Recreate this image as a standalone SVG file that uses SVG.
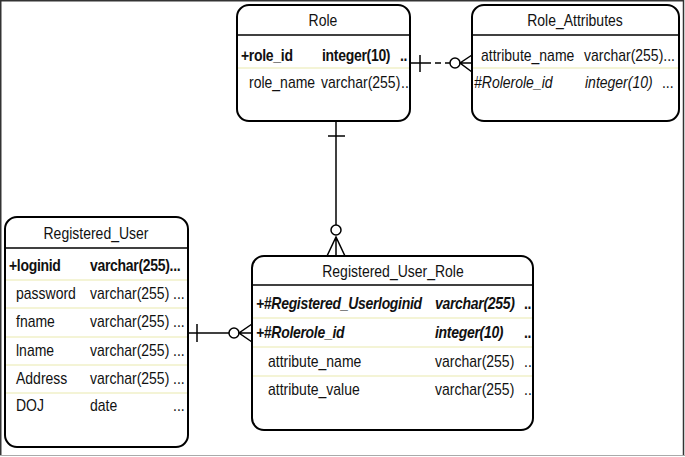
<svg xmlns="http://www.w3.org/2000/svg" width="685" height="457" viewBox="0 0 685 457">
<style>
text{font-family:"Liberation Sans",Arial,sans-serif;font-size:14px;fill:#111;transform-box:fill-box;transform-origin:50% 81%;transform:scaleY(1.2)}
.h{text-anchor:middle}
.b{font-weight:bold;letter-spacing:-0.3px}
.i{font-style:italic}
.box{fill:#fff;stroke:#000;stroke-width:2}
.sep{stroke:#000;stroke-width:1.5}
.row{stroke:#f0f0c8;stroke-width:1.5}
.c{fill:none;stroke:#000;stroke-width:1.5}
</style>
<rect width="685" height="457" fill="#fff"/>
<path d="M0.75,456 V0.75 H683.5 V456" fill="none" stroke="#333" stroke-width="1.5"/>
<line x1="0" y1="455.5" x2="685" y2="455.5" stroke="#aaa" stroke-width="1"/>

<g id="connectors">
  <line class="c" x1="410" y1="63" x2="425" y2="63"/>
  <line class="c" x1="425" y1="63" x2="450" y2="63" stroke-dasharray="6,4"/>
  <line class="c" x1="420" y1="55" x2="420" y2="72"/>
  <circle class="c" cx="455" cy="63" r="5"/>
  <path class="c" d="M472,55 L460,63 L472,72 M460,63 H472"/>
  <line class="c" x1="336" y1="121" x2="336" y2="225"/>
  <line class="c" x1="328" y1="136" x2="345" y2="136"/>
  <circle class="c" cx="336" cy="230" r="5"/>
  <path class="c" d="M327,256 L336,237 L345,256 M336,237 V256"/>
  <line class="c" x1="188" y1="333" x2="229" y2="333"/>
  <line class="c" x1="197" y1="324" x2="197" y2="342"/>
  <circle class="c" cx="234" cy="333" r="5"/>
  <path class="c" d="M252,324 L239,333 L252,342 M239,333 H252"/>
</g>

<g id="Role">
  <rect class="box" x="237" y="5" width="173" height="116" rx="12"/>
  <line class="sep" x1="237" y1="35" x2="410" y2="35"/>
  <line class="row" x1="238" y1="68" x2="409" y2="68"/>
  <text class="h" x="323" y="26">Role</text>
  <text class="b" x="241" y="61">+role_id</text>
  <text class="b" x="322" y="61">integer(10)</text>
  <text class="b" x="400" y="61">..</text>
  <text x="249" y="88">role_name</text>
  <text x="321" y="88">varchar(255)</text>
  <text x="401" y="88">..</text>
</g>

<g id="Role_Attributes">
  <rect class="box" x="472" y="5" width="207" height="116" rx="12"/>
  <line class="sep" x1="472" y1="35" x2="679" y2="35"/>
  <line class="row" x1="473" y1="68" x2="678" y2="68"/>
  <text class="h" x="575" y="26">Role_Attributes</text>
  <text x="481" y="61">attribute_name</text>
  <text x="584" y="61">varchar(255)...</text>
  <text class="i" x="474" y="88">#Rolerole_id</text>
  <text class="i" x="585" y="88">integer(10)</text>
  <text x="662" y="88">...</text>
</g>

<g id="Registered_User">
  <rect class="box" x="5" y="217" width="183" height="230" rx="12"/>
  <line class="sep" x1="5" y1="248" x2="188" y2="248"/>
  <line class="row" x1="6" y1="280" x2="187" y2="280"/>
  <line class="row" x1="6" y1="308" x2="187" y2="308"/>
  <line class="row" x1="6" y1="337" x2="187" y2="337"/>
  <line class="row" x1="6" y1="365" x2="187" y2="365"/>
  <line class="row" x1="6" y1="393" x2="187" y2="393"/>
  <text class="h" x="96" y="239">Registered_User</text>
  <text class="b" x="9" y="271">+loginid</text>
  <text class="b" x="90" y="271">varchar(255)...</text>
  <text x="16" y="299">password</text>
  <text x="90" y="299">varchar(255)</text>
  <text x="173" y="299">...</text>
  <text x="16" y="327">fname</text>
  <text x="90" y="327">varchar(255)</text>
  <text x="173" y="327">...</text>
  <text x="16" y="356">lname</text>
  <text x="90" y="356">varchar(255)</text>
  <text x="173" y="356">...</text>
  <text x="16" y="384">Address</text>
  <text x="90" y="384">varchar(255)</text>
  <text x="173" y="384">...</text>
  <text x="16" y="411">DOJ</text>
  <text x="90" y="411">date</text>
  <text x="173" y="411">...</text>
</g>

<g id="Registered_User_Role">
  <rect class="box" x="252" y="256" width="281" height="174" rx="12"/>
  <line class="sep" x1="252" y1="285" x2="533" y2="285"/>
  <line class="row" x1="253" y1="318" x2="532" y2="318"/>
  <line class="row" x1="253" y1="347" x2="532" y2="347"/>
  <line class="row" x1="253" y1="376" x2="532" y2="376"/>
  <text class="h" x="393" y="277">Registered_User_Role</text>
  <text class="b i" x="256" y="309">+#Registered_Userloginid</text>
  <text class="b i" x="435" y="309">varchar(255)</text>
  <text class="b" x="524" y="309">..</text>
  <text class="b i" x="256" y="338">+#Rolerole_id</text>
  <text class="b i" x="435" y="338">integer(10)</text>
  <text class="b" x="524" y="338">..</text>
  <text x="268" y="367">attribute_name</text>
  <text x="435" y="367">varchar(255)</text>
  <text x="524" y="367">..</text>
  <text x="268" y="395">attribute_value</text>
  <text x="435" y="395">varchar(255)</text>
  <text x="524" y="395">..</text>
</g>
</svg>
